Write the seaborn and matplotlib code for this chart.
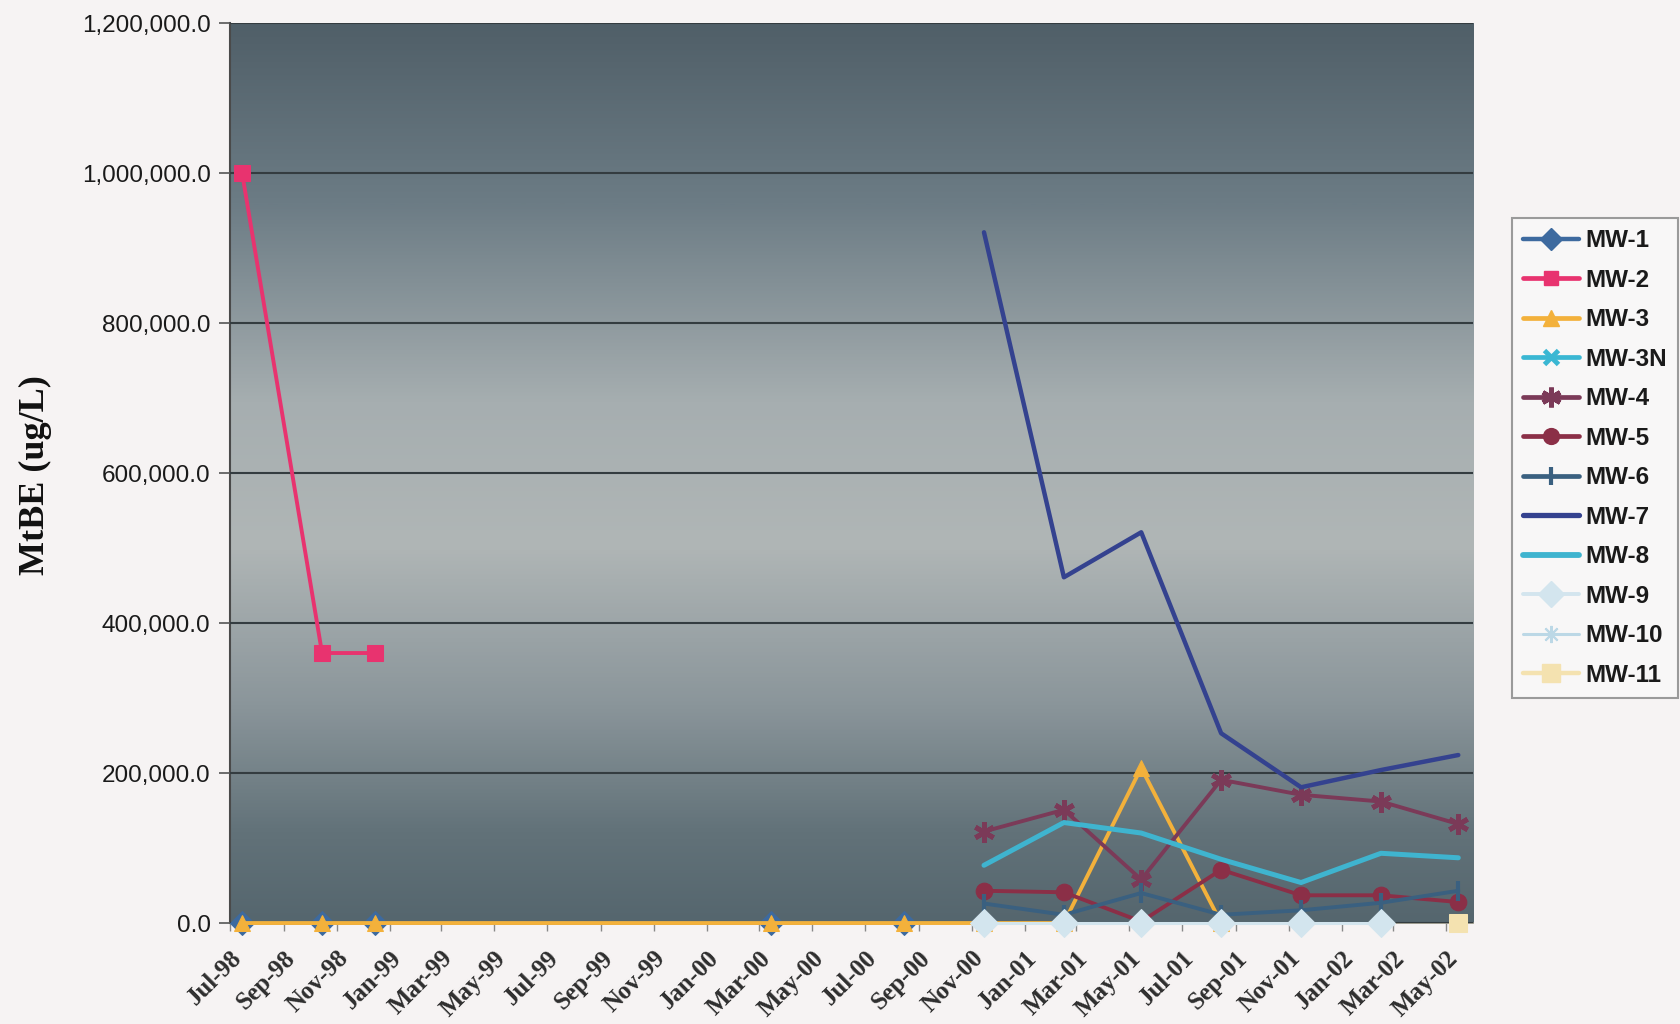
import numpy as np
import pandas as pd
import matplotlib
matplotlib.use("Agg")
import matplotlib.pyplot as plt
import matplotlib.dates as mdates
from matplotlib.colors import LinearSegmentedColormap
from matplotlib.lines import Line2D
from matplotlib.ticker import FuncFormatter
import seaborn as sns

# ---------------- data ----------------
dates_early = ["1998-07-15", "1998-10-15", "1998-12-15", "2000-03-15", "2000-08-15"]
dates_late = ["2000-11-15", "2001-02-15", "2001-05-15", "2001-08-15",
              "2001-11-15", "2002-02-15", "2002-05-15"]

wells = ["MW-1", "MW-2", "MW-3", "MW-3N", "MW-4", "MW-5", "MW-6",
         "MW-7", "MW-8", "MW-9", "MW-10", "MW-11"]

mw1_dates = dates_early
mw1_vals = [0, 0, 0, 0, 0]
mw2_dates = dates_early[:3]
mw2_vals = [1000000, 360000, 360000]
mw3_dates = dates_early + dates_late[:4]
mw3_vals = [0, 0, 0, 0, 0, 0, 0, 207000, 0]
mw4_vals = [122000, 151000, 58000, 191000, 171000, 162000, 132000]
mw5_vals = [43000, 41000, 2000, 71000, 37000, 37000, 28000]
mw6_vals = [26000, 11000, 40000, 11000, 17000, 27000, 43000]
mw7_vals = [921000, 461000, 521000, 253000, 181000, 204000, 224000]
mw8_vals = [77000, 134000, 120000, 85000, 54000, 93000, 87000]
mw9_dates = dates_late[:6]
mw9_vals = [0, 0, 0, 0, 0, 0]
mw11_dates = dates_late[6:]
mw11_vals = [0]

series_data = {
    "MW-1": (mw1_dates, mw1_vals),
    "MW-2": (mw2_dates, mw2_vals),
    "MW-3": (mw3_dates, mw3_vals),
    "MW-4": (dates_late, mw4_vals),
    "MW-5": (dates_late, mw5_vals),
    "MW-6": (dates_late, mw6_vals),
    "MW-7": (dates_late, mw7_vals),
    "MW-8": (dates_late, mw8_vals),
    "MW-9": (mw9_dates, mw9_vals),
    "MW-11": (mw11_dates, mw11_vals),
}

y_ticks = [0, 200000, 400000, 600000, 800000, 1000000, 1200000]

# ---------------- styles ----------------
styles = {
    "MW-1":  dict(color="#3d6a9f", marker="D", ms=12, lw=2.6),
    "MW-2":  dict(color="#e8336f", marker="s", ms=11, lw=2.8),
    "MW-3":  dict(color="#f3b13b", marker="^", ms=12, lw=2.8),
    "MW-3N": dict(color="#3ab7d3", marker="x", ms=11, lw=2.8, mew=3.5),
    "MW-4":  dict(color="#7b3a58", marker=(6, 2, 0), ms=15, lw=2.8, mew=3.5),
    "MW-5":  dict(color="#8b2f47", marker="o", ms=12, lw=2.8),
    "MW-6":  dict(color="#3a6080", marker="|", ms=14, lw=2.8, mew=3),
    "MW-7":  dict(color="#34428f", marker="None", ms=0, lw=3.2),
    "MW-8":  dict(color="#3fb4cf", marker="None", ms=0, lw=3.6),
    "MW-9":  dict(color="#d3e5ee", marker="D", ms=14, lw=2.2),
    "MW-10": dict(color="#bcd8e6", marker=(8, 2, 0), ms=13, lw=1.6, mew=1.5),
    "MW-11": dict(color="#f4e2b0", marker="s", ms=13, lw=2.6),
}

sns.set_theme(style="white")
plt.rcParams["font.family"] = ["Liberation Sans", "DejaVu Sans"]

fig = plt.figure(figsize=(16.81, 10.24), dpi=100)
fig.patch.set_facecolor("#f6f3f3")
ax = fig.add_axes([0.1368, 0.0986, 0.7395, 0.8789])

# gradient plot background
grad_cmap = LinearSegmentedColormap.from_list(
    "bg",
    [(0.0, "#505f68"), (0.2, "#6c7c85"), (0.42, "#a6aeb0"), (0.58, "#b0b6b6"),
     (0.76, "#8a959a"), (0.9, "#627279"), (1.0, "#55666e")])
grad = np.linspace(0, 1, 512).reshape(-1, 1)
ax.imshow(grad, cmap=grad_cmap, aspect="auto", extent=[0, 1, 0, 1],
          transform=ax.transAxes, zorder=0, interpolation="bilinear")

for i, name in enumerate(wells):
    if name not in series_data:
        continue
    d, v = series_data[name]
    st = styles[name]
    df = pd.DataFrame({"date": pd.to_datetime(d), "value": v})
    kw = dict(color=st["color"], linewidth=st["lw"], marker=st["marker"],
              markersize=st["ms"], markeredgecolor=st["color"],
              markerfacecolor=st["color"], clip_on=False)
    if "mew" in st:
        kw["markeredgewidth"] = st["mew"]
    sns.lineplot(data=df, x="date", y="value", ax=ax, estimator=None,
                 legend=False, zorder=3 + i, **kw)

# axes
ax.set_xlim(pd.Timestamp("1998-07-01"), pd.Timestamp("2002-06-01"))
ax.set_ylim(0, 1200000)
ax.set_yticks(y_ticks)
ax.yaxis.set_major_formatter(FuncFormatter(lambda v, p: f"{v:,.1f}"))
ax.xaxis.set_major_locator(mdates.MonthLocator(bymonth=[1, 3, 5, 7, 9, 11]))
ax.xaxis.set_major_formatter(mdates.DateFormatter("%b-%y"))
ax.grid(axis="y", color="#343c40", linewidth=1.5, zorder=1)
ax.grid(axis="x", visible=False)
ax.set_axisbelow(False)
for s in ["top", "right"]:
    ax.spines[s].set_visible(False)
ax.spines["left"].set_color("#4a4a4a")
ax.spines["left"].set_linewidth(1.5)
ax.spines["bottom"].set_color("#8a8a7a")
ax.spines["bottom"].set_linewidth(1.2)
ax.set_xlabel("")
ax.set_ylabel("")

ax.tick_params(axis="y", which="major", left=True, length=8, width=1.2,
               color="#555555", pad=6, labelsize=17.5, labelcolor="#1a1a1a")
ax.tick_params(axis="x", which="major", bottom=True, length=6, width=1.0,
               color="#888888", pad=11)
for lab in ax.get_xticklabels():
    lab.set_rotation(45)
    lab.set_ha("right")
    lab.set_va("top")
    lab.set_rotation_mode("anchor")
    lab.set_family(["Liberation Serif", "DejaVu Serif"])
    lab.set_fontweight("bold")
    lab.set_fontsize(18)
    lab.set_color("#2e2e2e")

fig.text(35 / 1681, 0.536, "MtBE (ug/L)", rotation=90, ha="center",
         va="center", fontsize=26, fontweight="bold", color="#111111",
         family=["Liberation Serif", "DejaVu Serif"])

# legend
handles = []
for name in wells:
    st = styles[name]
    h = Line2D([], [], color=st["color"], linewidth=st["lw"] + 0.6,
               marker=st["marker"], markersize=st["ms"] * 0.95,
               markeredgecolor=st["color"], markerfacecolor=st["color"],
               markeredgewidth=st.get("mew", 1.0))
    handles.append(h)
leg = fig.legend(handles, wells, loc="upper left",
                 bbox_to_anchor=(0.8995, 0.787), bbox_transform=fig.transFigure,
                 frameon=True, fancybox=False, framealpha=1.0,
                 edgecolor="#9a9a9a", facecolor="#f8f7f7",
                 prop=dict(family=["Liberation Sans", "DejaVu Sans"],
                           weight="bold", size=17.5),
                 labelspacing=0.68, handlelength=2.3, handletextpad=0.25,
                 borderpad=0.45, borderaxespad=0.0)
leg.get_frame().set_linewidth(1.5)
for t in leg.get_texts():
    t.set_color("#1a1a1a")

fig.savefig("out.png", dpi=100, facecolor=fig.get_facecolor())
